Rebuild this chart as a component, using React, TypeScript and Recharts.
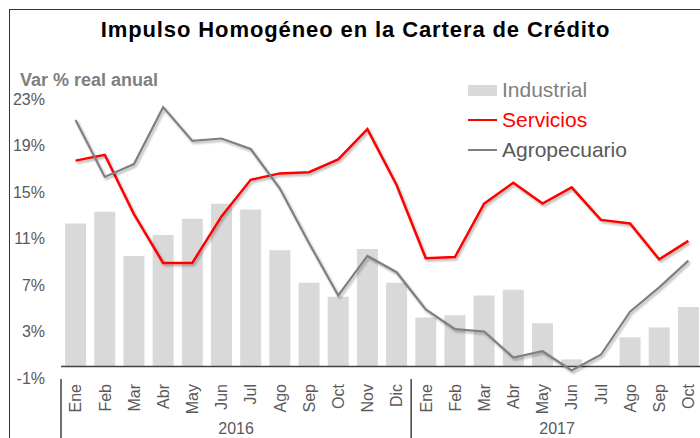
import {
  Bar,
  ComposedChart,
  Line,
  ReferenceLine,
  XAxis,
  YAxis,
} from "recharts";

const months = [
  "Ene", "Feb", "Mar", "Abr", "May", "Jun", "Jul", "Ago", "Sep", "Oct", "Nov", "Dic",
  "Ene", "Feb", "Mar", "Abr", "May", "Jun", "Jul", "Ago", "Sep", "Oct",
];
const years = [
  "2016", "2016", "2016", "2016", "2016", "2016", "2016", "2016", "2016", "2016", "2016", "2016",
  "2017", "2017", "2017", "2017", "2017", "2017", "2017", "2017", "2017", "2017",
];
const industrial = [
  12.3, 13.3, 9.5, 11.3, 12.7, 14.0, 13.5, 10.0, 7.2, 6.0, 10.1, 7.2,
  4.2, 4.4, 6.1, 6.6, 3.7, 0.6, 0, 2.5, 3.35, 5.1,
];
const servicios = [
  17.7, 18.2, 13.1, 8.9, 8.9, 12.9, 16.05, 16.6, 16.7, 17.8, 20.4, 15.6,
  9.3, 9.4, 14.0, 15.8, 14.0, 15.4, 12.6, 12.3, 9.2, 10.8,
];
const agropecuario = [
  21.2, 16.3, 17.4, 22.3, 19.4, 19.6, 18.7, 15.3, 10.6, 6.1, 9.5, 8.1,
  4.9, 3.2, 3.0, 0.75, 1.3, -0.35, 1.0, 4.7, 6.8, 9.1,
];
const yTicks = [-1, 3, 7, 11, 15, 19, 23];

const data = months.map((m, i) => ({
  key: `${m}-${years[i]}`,
  month: m,
  year: years[i],
  industrial: industrial[i],
  servicios: servicios[i],
  agropecuario: agropecuario[i],
}));

const FONT = "'Liberation Sans', Arial, sans-serif";
const TEXT = "#595959";

function MonthTick(props: any) {
  const { x, y, payload, index } = props;
  const half = payload?.offset ?? 14.6;
  const row = data[index];
  const first = index === 0 || data[index - 1].year !== row.year;
  const count = data.filter((d) => d.year === row.year).length;
  return (
    <g>
      <text
        transform={`translate(${x},${y + 6}) rotate(-90)`}
        textAnchor="end"
        dy="0.36em"
        fontSize={16}
        fill={TEXT}
        fontFamily={FONT}
      >
        {row.month}
      </text>
      {first && (
        <>
          <line x1={x - half} x2={x - half} y1={y + 1} y2={y + 62} stroke="#404040" strokeWidth={1.5} />
          <text x={x - half + count * half} y={y + 56} textAnchor="middle" fontSize={16} fill={TEXT} fontFamily={FONT}>
            {row.year}
          </text>
        </>
      )}
    </g>
  );
}

// legend drawn outside the chart so it doesn't eat into the plot area
const legendRows = [
  { name: "Industrial", color: "#7f7f7f", kind: "rect", swatch: "#d9d9d9" },
  { name: "Servicios", color: "#ff0000", kind: "line", swatch: "#ff0000" },
  { name: "Agropecuario", color: "#595959", kind: "line", swatch: "#7f7f7f" },
];

function LegendBox() {
  return (
    <div style={{ position: "absolute", left: 468, top: 75, fontFamily: FONT, fontSize: 21 }}>
      {legendRows.map((r) => (
        <div key={r.name} style={{ display: "flex", alignItems: "center", height: 30 }}>
          <div
            style={{
              width: 29,
              height: r.kind === "rect" ? 11 : 2.5,
              background: r.swatch,
              marginRight: 5,
            }}
          />
          <span style={{ color: r.color }}>{r.name}</span>
        </div>
      ))}
    </div>
  );
}

export default function App() {
  return (
    <div
      style={{
        position: "absolute",
        left: 0,
        top: 0,
        width: 700,
        height: 438,
        overflow: "hidden",
        background: "#fff",
        fontFamily: FONT,
      }}
    >
      <div
        style={{
          position: "absolute",
          left: 9,
          top: 9,
          width: 720,
          height: 460,
          borderTop: "1.5px solid #333",
          borderLeft: "1.5px solid #333",
        }}
      />
      <div
        style={{
          position: "absolute",
          left: 0,
          width: 711,
          top: 17,
          textAlign: "center",
          fontWeight: "bold",
          fontSize: 22,
          letterSpacing: 0.9,
          color: "#000",
        }}
      >
        Impulso Homogéneo en la Cartera de Crédito
      </div>
      <div
        style={{
          position: "absolute",
          left: 20,
          top: 70,
          fontWeight: "bold",
          fontSize: 18,
          color: "#7f7f7f",
        }}
      >
        Var % real anual
      </div>
      <ComposedChart
        width={703}
        height={438}
        data={data}
        margin={{ top: 99, right: 0, left: 0, bottom: 0 }}
        barCategoryGap="14%"
        style={{ position: "absolute", left: 0, top: 0 }}
      >
        <defs>
          <filter id="shadow" x="-5%" y="-5%" width="110%" height="120%">
            <feDropShadow dx="1.5" dy="2" stdDeviation="1.2" floodColor="#000" floodOpacity="0.3" />
          </filter>
        </defs>
        <XAxis
          dataKey="key"
          axisLine={false}
          tickLine={false}
          tickSize={0}
          tickMargin={0}
          height={60}
          interval={0}
          tick={<MonthTick />}
        />
        <YAxis
          domain={[-1, 23]}
          ticks={yTicks}
          width={61}
          axisLine={false}
          tickLine={false}
          tickMargin={10}
          tickFormatter={(v) => `${v}%`}
          tick={{ fontSize: 16, fill: TEXT, fontFamily: FONT }}
        />
        <Bar dataKey="industrial" name="Industrial" fill="#d9d9d9" isAnimationActive={false} />
        <ReferenceLine y={0} stroke="#404040" strokeWidth={1.5} />
        <Line
          dataKey="servicios"
          name="Servicios"
          type="linear"
          stroke="#ff0000"
          strokeWidth={2.5}
          dot={false}
          filter="url(#shadow)"
          isAnimationActive={false}
        />
        <Line
          dataKey="agropecuario"
          name="Agropecuario"
          type="linear"
          stroke="#7f7f7f"
          strokeWidth={2.2}
          dot={false}
          filter="url(#shadow)"
          isAnimationActive={false}
        />
      </ComposedChart>
      <LegendBox />
    </div>
  );
}
